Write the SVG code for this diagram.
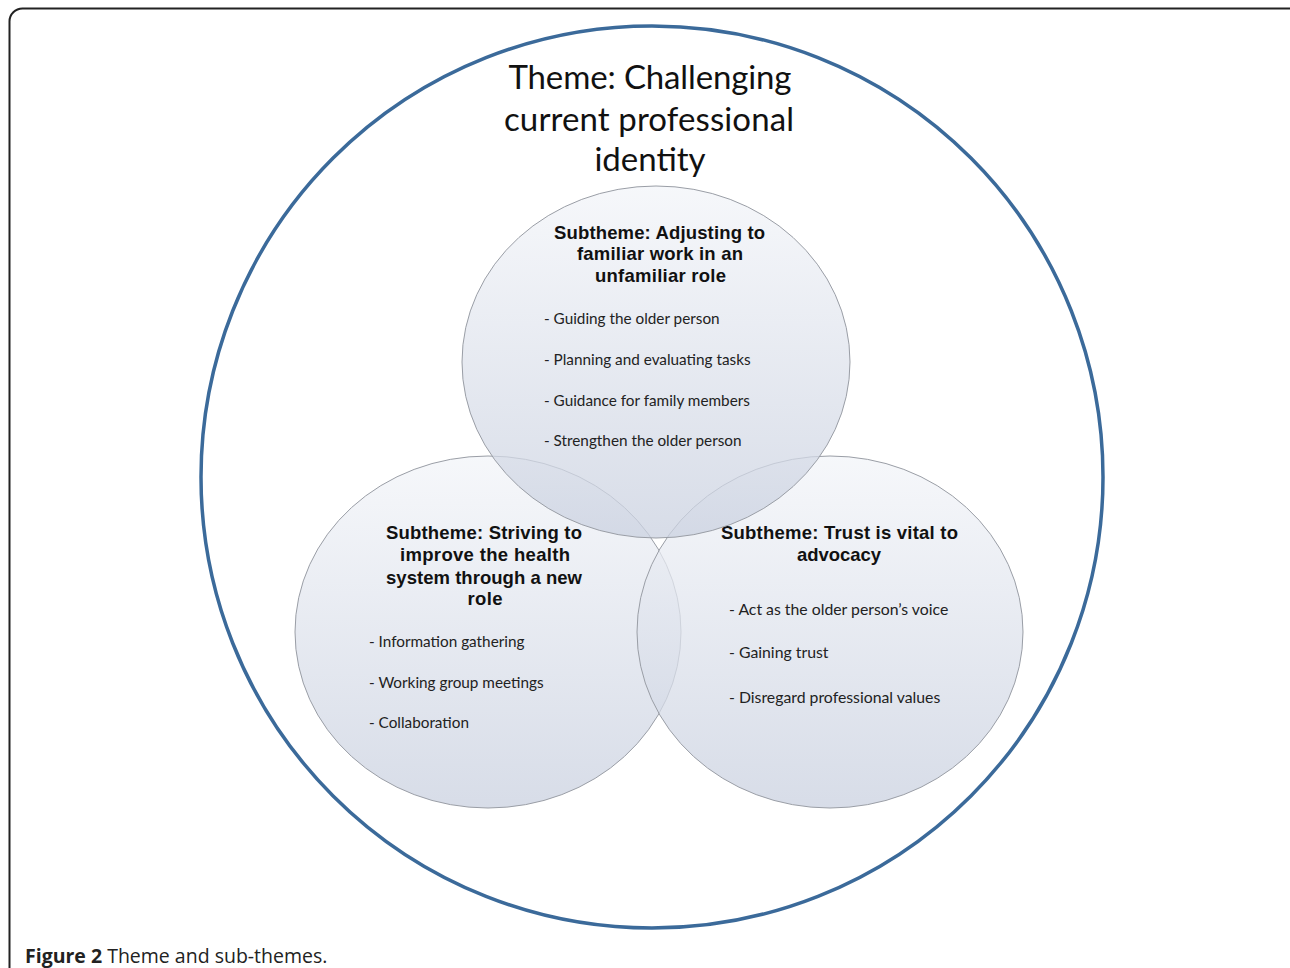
<svg xmlns="http://www.w3.org/2000/svg" width="1290" height="968" viewBox="0 0 1290 968">
<style>
.frame{fill:#fff;stroke:#222;stroke-width:2}
.outer{fill:none;stroke:#3b6a9a;stroke-width:3.5}
.sub{stroke:#9a9ea6;stroke-width:1;fill:url(#g)}
.title{font-family:Lato,"Open Sans",sans-serif;font-size:33px;fill:#111;text-anchor:middle}
.head{font-family:"Liberation Sans",Arial,sans-serif;font-size:18.5px;font-weight:bold;fill:#111;text-anchor:middle}
.item{font-family:Lato,"Open Sans",sans-serif;font-size:15.3px;fill:#222}
.itemr{font-family:Lato,"Open Sans",sans-serif;font-size:15.8px;fill:#222}
.cap{font-family:"Open Sans",sans-serif;font-size:19.5px;fill:#222}
</style>
<defs>
<linearGradient id="g" x1="0" y1="0" x2="0" y2="1">
<stop offset="0" stop-color="#f3f5f9" stop-opacity="0.75"/>
<stop offset="1" stop-color="#cad1e0" stop-opacity="0.75"/>
</linearGradient>
</defs>
<rect class="frame" x="9.5" y="8.5" width="1300" height="1000" rx="13"/>
<g id="theme">
<circle class="outer" cx="652" cy="477" r="451"/>
<text class="title" x="650" y="89" textLength="283">Theme: Challenging</text>
<text class="title" x="649" y="131" textLength="290">current professional</text>
<text class="title" x="650" y="171">identity</text>
</g>
<g id="connectors"></g>
<g id="sub-left">
<ellipse class="sub" cx="488" cy="632" rx="193" ry="176"/>
<text class="head" x="484" y="539" textLength="196">Subtheme: Striving to</text>
<text class="head" x="485" y="561" textLength="170">improve the health</text>
<text class="head" x="484" y="584" textLength="196">system through a new</text>
<text class="head" x="485" y="605" textLength="35">role</text>
<text class="item" x="369" y="647">- Information  gathering</text>
<text class="item" x="369" y="688">- Working group meetings</text>
<text class="item" x="369" y="728">- Collaboration</text>
</g>
<g id="sub-right">
<ellipse class="sub" cx="830" cy="632" rx="193" ry="176"/>
<text class="head" x="839.5" y="539" textLength="237">Subtheme: Trust is vital to</text>
<text class="head" x="839" y="561" textLength="84">advocacy</text>
<text class="itemr" x="729" y="615">- Act as the older person’s voice</text>
<text class="itemr" x="729" y="658">- Gaining trust</text>
<text class="itemr" x="729" y="703">- Disregard professional  values</text>
</g>
<g id="sub-top">
<ellipse class="sub" cx="656" cy="362" rx="194" ry="176"/>
<text class="head" x="659.5" y="239" textLength="211">Subtheme: Adjusting to</text>
<text class="head" x="660" y="260" textLength="166">familiar work in an</text>
<text class="head" x="660.5" y="282" textLength="131">unfamiliar role</text>
<text class="item" x="544" y="324">- Guiding the older  person</text>
<text class="item" x="544" y="365">- Planning and evaluating tasks</text>
<text class="item" x="544" y="406">- Guidance for family members</text>
<text class="item" x="544" y="446">- Strengthen the older person</text>
</g>
<text class="cap" x="25" y="963"><tspan font-weight="bold">Figure 2</tspan> Theme and sub-themes.</text>
</svg>
